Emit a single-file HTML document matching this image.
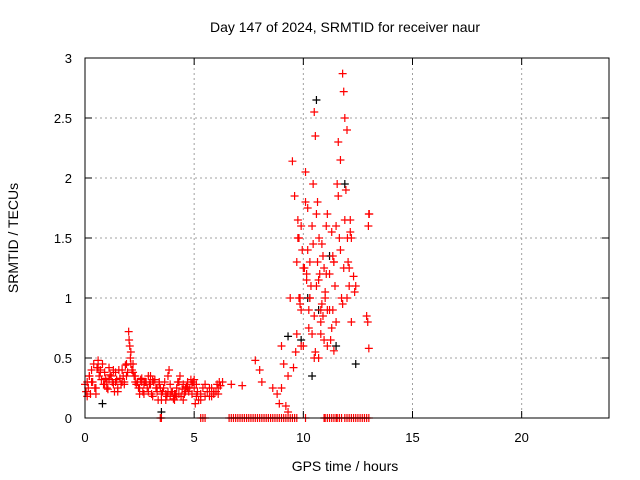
<!DOCTYPE html>
<html><head><meta charset="utf-8"><style>
body{margin:0;background:#fff}
svg{display:block;font-family:"Liberation Sans",sans-serif}
</style></head><body>
<svg id="chart" width="640" height="480">
<text x="345" y="32" text-anchor="middle" font-size="14">Day 147 of 2024, SRMTID for receiver naur</text>
<text x="345" y="471" text-anchor="middle" font-size="14">GPS time / hours</text>
<text transform="translate(18,238) rotate(-90)" text-anchor="middle" font-size="14">SRMTID / TECUs</text>
<g id="grid"></g><g id="ticks"></g><g id="marks"></g>
<rect x="85" y="58" width="524" height="360" fill="none" stroke="#000" stroke-width="1"/>
</svg>
<script>
const xTicks=[0,5,10,15,20];
const yTicks=[0,0.5,1,1.5,2,2.5,3];
const yTickLabels=["0","0.5","1","1.5","2","2.5","3"];
const times=[0,0.05,0.1,0.15,0.2,0.25,0.3,0.35,0.4,0.45,0.5,0.55,0.6,0.65,0.7,0.75,0.8,0.85,0.9,0.95,1.0,1.05,1.1,1.15,1.2,1.25,1.3,1.35,1.4,1.45,1.5,1.55,1.6,1.65,1.7,1.75,1.8,1.85,1.9,1.95,2.0,2.02,2.05,2.08,2.1,2.15,2.2,2.25,2.3,2.35,2.4,2.45,2.5,2.55,2.6,2.65,2.7,2.75,2.8,2.85,2.9,2.95,3.0,3.05,3.1,3.15,3.2,3.25,3.3,3.35,3.4,3.45,3.5,3.55,3.6,3.65,3.7,3.75,3.8,3.85,3.9,3.95,4.0,4.05,4.1,4.15,4.2,4.25,4.3,4.35,4.4,4.45,4.5,4.55,4.6,4.65,4.7,4.75,4.8,4.85,4.9,4.95,5.0,5.05,5.1,5.15,5.2,5.3,5.4,5.5,5.6,5.7,5.8,5.9,6.0,6.05,6.1,6.15,6.2,6.3,6.7,7.2,7.8,8.0,8.1,8.6,8.8,8.9,9.0,9.1,9.2,9.3,9.4,9.5,9.6,9.65,9.7,9.75,9.8,9.85,9.9,9.95,10.0,10.05,10.1,10.15,10.2,10.25,10.3,10.35,10.4,10.45,10.5,10.55,10.6,10.65,10.7,10.72,10.75,10.8,10.85,10.9,10.95,11.0,11.05,11.1,11.2,11.3,11.35,11.4,11.5,11.55,11.6,11.7,11.8,11.85,11.9,11.95,12.0,12.02,12.05,12.1,12.15,12.2,12.3,12.4,12.9,12.95,13.0,13.02,12.98,13.0,9.85,9.9,10.3,10.5,10.8,11.1,11.4,11.75,12.1,10.1,9.8];
const values=[0.28,0.22,0.3,0.25,0.35,0.2,0.4,0.3,0.45,0.25,0.2,0.42,0.48,0.35,0.4,0.32,0.45,0.28,0.38,0.33,0.3,0.24,0.42,0.36,0.35,0.3,0.28,0.22,0.38,0.32,0.25,0.4,0.33,0.28,0.4,0.35,0.3,0.44,0.45,0.38,0.72,0.65,0.6,0.5,0.45,0.4,0.38,0.35,0.35,0.28,0.3,0.25,0.25,0.32,0.33,0.22,0.2,0.3,0.3,0.25,0.35,0.28,0.28,0.2,0.18,0.3,0.32,0.25,0.22,0.15,0.3,0.25,0.15,0.22,0.25,0.3,0.2,0.18,0.35,0.4,0.18,0.22,0.22,0.16,0.15,0.2,0.25,0.3,0.2,0.35,0.18,0.24,0.28,0.2,0.22,0.26,0.3,0.22,0.25,0.32,0.28,0.3,0.25,0.12,0.18,0.22,0.15,0.2,0.25,0.28,0.22,0.18,0.25,0.2,0.22,0.28,0.25,0.3,0.27,0.3,0.28,0.27,0.48,0.4,0.3,0.25,0.2,0.12,0.6,0.45,0.1,0.05,1.0,2.14,1.85,0.55,1.3,1.5,1.5,0.95,1.6,1.4,0.6,1.25,2.05,1.2,1.75,0.9,1.3,1.1,0.7,1.95,2.55,2.35,1.1,1.8,0.5,1.5,1.2,0.9,1.45,0.85,1.25,1.05,1.6,0.6,1.2,0.75,0.9,1.3,1.6,1.95,2.3,2.15,2.87,2.72,2.5,1.9,1.0,1.5,1.3,1.1,1.65,1.5,1.18,1.1,0.85,0.8,0.58,1.7,1.6,1.7,1.0,0.6,1.0,0.5,0.8,0.9,0.56];
const extraTimes=[0.1,0.3,0.5,0.7,0.9,1.1,1.3,1.5,1.7,1.9,2.1,2.3,2.5,2.7,2.9,3.1,3.3,3.5,3.7,3.9,4.1,4.3,4.5,4.7,4.9,5.1,5.3,5.5,5.7,5.9,6.1,0.2,0.6,1.0,1.4,1.8,2.2,2.6,3.0,3.4,3.8,4.2,4.6,5.0,5.8,6.2,9.0,9.3,9.55,9.7,9.8,9.9,10.0,10.1,10.2,10.3,10.4,10.5,10.6,10.7,10.8,10.9,11.0,11.1,11.2,11.3,11.4,11.5,11.6,11.7,11.8,11.9,12.0,12.1,12.2,10.25,10.45,10.65,10.85,11.05,11.25,11.45,11.65,11.85,9.75,10.15,10.55,10.95,11.35,11.75,12.15,12.35];
const extraValues=[0.18,0.3,0.25,0.38,0.28,0.32,0.4,0.22,0.3,0.35,0.55,0.3,0.2,0.28,0.22,0.32,0.25,0.2,0.15,0.28,0.2,0.3,0.15,0.25,0.2,0.28,0.15,0.18,0.25,0.22,0.2,0.35,0.42,0.25,0.3,0.28,0.45,0.3,0.35,0.28,0.22,0.18,0.25,0.32,0.18,0.27,0.25,0.35,0.42,0.7,1.0,0.9,1.25,1.8,1.4,1.0,1.6,0.85,1.7,1.15,0.7,1.35,1.0,1.7,0.9,1.55,1.3,0.8,1.85,1.4,0.95,1.65,2.4,1.25,0.8,0.75,1.45,1.3,0.95,1.2,0.65,1.1,1.5,1.25,1.65,1.15,0.55,0.65,1.35,1.0,1.55,1.05];
const blackTimes=[10.6,10.2,11.9,10.4,9.9,11.2,12.4,3.5,0.8,9.3,10.7,11.5];
const blackValues=[2.65,1.0,1.95,0.35,0.65,1.35,0.45,0.05,0.12,0.68,0.9,0.6];
const zeroTimes=[3.45,3.5,5.3,5.4,5.5,6.6,6.7,6.8,6.9,7.0,7.1,7.2,7.3,7.4,7.5,7.6,7.7,7.8,7.9,8.0,8.1,8.2,8.3,8.4,8.5,8.6,8.7,8.8,8.9,9.0,9.1,9.2,9.3,9.4,9.5,9.6,9.7,10.1,10.95,11.0,11.1,11.2,11.3,11.4,11.5,11.55,11.65,11.75,11.9,12.0,12.1,12.2,12.3,12.4,12.5,12.6,12.7,12.8,12.9,13.0];
const X=t=>85+t*(524/24), Y=v=>418-v*120;
const NS="http://www.w3.org/2000/svg";
const grid=document.getElementById('grid'),ticks=document.getElementById('ticks'),marks=document.getElementById('marks');
function ln(p,x1,y1,x2,y2,st,da){const l=document.createElementNS(NS,'line');l.setAttribute('x1',x1);l.setAttribute('y1',y1);l.setAttribute('x2',x2);l.setAttribute('y2',y2);l.setAttribute('stroke',st);if(da)l.setAttribute('stroke-dasharray',da);p.appendChild(l);return l;}
xTicks.forEach(t=>{const x=X(t);
 if(t>0){const g=ln(grid,x,58,x,418,'#a0a0a0','2,3');

}
 ln(ticks,x,418,x,411,'#000');ln(ticks,x,58,x,65,'#000');
 const tx=document.createElementNS(NS,'text');tx.setAttribute('x',x);tx.setAttribute('y',442);tx.setAttribute('text-anchor','middle');tx.setAttribute('font-size','13');tx.textContent=t;


ticks.appendChild(tx);});
yTicks.forEach((v,i)=>{const y=Y(v);
 if(v>0&&v<3){const g=ln(grid,85,y,609,y,'#a0a0a0','2,3');

}
 ln(ticks,85,y,92,y,'#000');ln(ticks,609,y,602,y,'#000');
 const tx=document.createElementNS(NS,'text');tx.setAttribute('x',72);tx.setAttribute('y',y+5);tx.setAttribute('text-anchor','end');tx.setAttribute('font-size','13');tx.textContent=yTickLabels[i];


ticks.appendChild(tx);});
function plus(t,v,c,name){const x=X(t),y=Y(v);const g=document.createElementNS(NS,'path');
g.setAttribute('d',`M${x-4},${y}H${x+4}M${x},${y-4}V${y+4}`);g.setAttribute('stroke',c);g.setAttribute('stroke-width','1.2');g.setAttribute('fill','none');


marks.appendChild(g);}
blackTimes.forEach((t,i)=>plus(t,blackValues[i],'#000','black-point'));
times.forEach((t,i)=>plus(t,values[i],'#f00','srmtid-point'));
extraTimes.forEach((t,i)=>plus(t,extraValues[i],'#f00','srmtid-point'));
zeroTimes.forEach(t=>plus(t,0,'#f00','zero-point'));
</script>
</body></html>
